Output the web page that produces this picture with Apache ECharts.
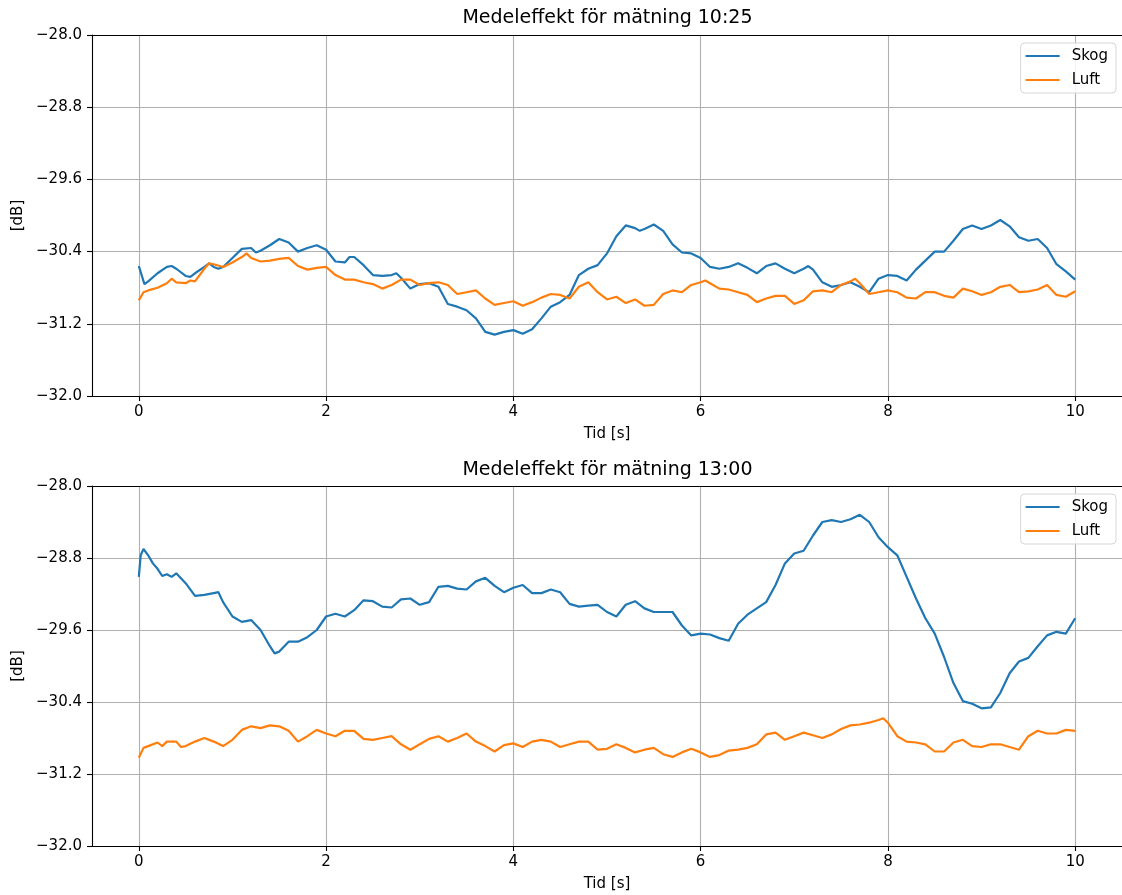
<!DOCTYPE html>
<html>
<head>
<meta charset="utf-8">
<script src="https://cdn.jsdelivr.net/npm/echarts@6/dist/echarts.min.js"></script>
<style>html,body{margin:0;padding:0;background:#fff}#c{width:1122px;height:895px}</style>
</head>
<body>
<div id="c"></div>
<script>
// ---- data: [time s, dB] ----
const topSkog = [[0,-30.56],[0.06,-30.76],[0.1,-30.73],[0.2,-30.64],[0.3,-30.57],[0.35,-30.56],[0.4,-30.59],[0.5,-30.67],[0.55,-30.68],[0.6,-30.64],[0.7,-30.57],[0.75,-30.53],[0.8,-30.57],[0.85,-30.59],[0.9,-30.57],[1.0,-30.47],[1.1,-30.37],[1.2,-30.36],[1.25,-30.41],[1.3,-30.39],[1.4,-30.33],[1.5,-30.26],[1.6,-30.30],[1.7,-30.40],[1.8,-30.36],[1.9,-30.33],[2.0,-30.38],[2.1,-30.51],[2.2,-30.52],[2.25,-30.46],[2.3,-30.46],[2.4,-30.55],[2.5,-30.66],[2.6,-30.67],[2.7,-30.66],[2.75,-30.64],[2.8,-30.69],[2.9,-30.81],[3.0,-30.76],[3.1,-30.75],[3.2,-30.79],[3.3,-30.98],[3.4,-31.01],[3.5,-31.05],[3.6,-31.14],[3.7,-31.29],[3.8,-31.32],[3.9,-31.29],[4.0,-31.27],[4.1,-31.31],[4.2,-31.26],[4.3,-31.14],[4.4,-31.01],[4.5,-30.96],[4.6,-30.88],[4.7,-30.66],[4.8,-30.59],[4.9,-30.55],[5.0,-30.42],[5.1,-30.23],[5.2,-30.11],[5.3,-30.14],[5.35,-30.17],[5.4,-30.15],[5.5,-30.10],[5.6,-30.17],[5.7,-30.32],[5.8,-30.41],[5.9,-30.42],[6.0,-30.47],[6.1,-30.57],[6.2,-30.59],[6.3,-30.57],[6.4,-30.53],[6.5,-30.58],[6.6,-30.64],[6.7,-30.56],[6.8,-30.53],[6.9,-30.59],[7.0,-30.64],[7.1,-30.59],[7.15,-30.56],[7.2,-30.60],[7.3,-30.74],[7.4,-30.79],[7.5,-30.77],[7.6,-30.74],[7.7,-30.79],[7.8,-30.85],[7.9,-30.70],[8.0,-30.66],[8.1,-30.67],[8.2,-30.72],[8.3,-30.60],[8.4,-30.50],[8.5,-30.40],[8.6,-30.40],[8.7,-30.28],[8.8,-30.15],[8.9,-30.11],[9.0,-30.15],[9.1,-30.11],[9.2,-30.05],[9.3,-30.12],[9.4,-30.24],[9.5,-30.28],[9.6,-30.26],[9.7,-30.36],[9.8,-30.54],[9.9,-30.62],[10.0,-30.71]];
const topLuft = [[0,-30.94],[0.05,-30.85],[0.1,-30.83],[0.2,-30.80],[0.3,-30.75],[0.35,-30.70],[0.4,-30.74],[0.5,-30.75],[0.55,-30.72],[0.6,-30.73],[0.7,-30.59],[0.75,-30.53],[0.8,-30.54],[0.9,-30.57],[1.0,-30.52],[1.1,-30.46],[1.15,-30.42],[1.2,-30.47],[1.3,-30.51],[1.4,-30.50],[1.5,-30.48],[1.6,-30.47],[1.7,-30.56],[1.8,-30.60],[1.9,-30.58],[2.0,-30.57],[2.1,-30.66],[2.2,-30.71],[2.3,-30.71],[2.4,-30.74],[2.5,-30.76],[2.6,-30.81],[2.7,-30.77],[2.8,-30.71],[2.9,-30.71],[3.0,-30.77],[3.1,-30.75],[3.2,-30.74],[3.3,-30.77],[3.4,-30.87],[3.5,-30.85],[3.6,-30.83],[3.7,-30.92],[3.8,-30.99],[3.9,-30.97],[4.0,-30.95],[4.1,-31.00],[4.2,-30.96],[4.3,-30.91],[4.4,-30.87],[4.5,-30.88],[4.6,-30.92],[4.7,-30.79],[4.8,-30.74],[4.9,-30.85],[5.0,-30.93],[5.1,-30.90],[5.2,-30.97],[5.3,-30.93],[5.4,-31.00],[5.5,-30.99],[5.6,-30.87],[5.7,-30.83],[5.8,-30.85],[5.9,-30.77],[6.0,-30.74],[6.05,-30.72],[6.1,-30.75],[6.2,-30.81],[6.3,-30.82],[6.4,-30.85],[6.5,-30.88],[6.6,-30.96],[6.7,-30.92],[6.8,-30.89],[6.9,-30.89],[7.0,-30.98],[7.1,-30.94],[7.2,-30.84],[7.3,-30.83],[7.4,-30.85],[7.5,-30.77],[7.6,-30.73],[7.65,-30.70],[7.7,-30.75],[7.8,-30.87],[7.9,-30.85],[8.0,-30.83],[8.1,-30.85],[8.2,-30.91],[8.3,-30.92],[8.4,-30.85],[8.5,-30.85],[8.6,-30.89],[8.7,-30.91],[8.8,-30.81],[8.9,-30.84],[9.0,-30.88],[9.1,-30.85],[9.2,-30.79],[9.3,-30.77],[9.4,-30.85],[9.5,-30.84],[9.6,-30.82],[9.7,-30.77],[9.8,-30.88],[9.9,-30.90],[10.0,-30.84]];
const botSkog = [[0,-29.01],[0.02,-28.77],[0.05,-28.70],[0.1,-28.77],[0.15,-28.86],[0.2,-28.92],[0.25,-29.00],[0.3,-28.98],[0.35,-29.01],[0.4,-28.97],[0.5,-29.08],[0.6,-29.22],[0.7,-29.21],[0.8,-29.19],[0.85,-29.18],[0.9,-29.29],[1.0,-29.45],[1.1,-29.51],[1.2,-29.49],[1.3,-29.60],[1.4,-29.78],[1.45,-29.86],[1.5,-29.84],[1.6,-29.73],[1.7,-29.73],[1.8,-29.68],[1.9,-29.60],[2.0,-29.45],[2.1,-29.42],[2.2,-29.45],[2.3,-29.38],[2.4,-29.27],[2.5,-29.28],[2.6,-29.34],[2.7,-29.35],[2.8,-29.26],[2.9,-29.25],[3.0,-29.32],[3.1,-29.29],[3.2,-29.12],[3.3,-29.11],[3.4,-29.14],[3.5,-29.15],[3.6,-29.06],[3.7,-29.02],[3.8,-29.11],[3.9,-29.18],[4.0,-29.13],[4.1,-29.10],[4.2,-29.19],[4.3,-29.19],[4.4,-29.15],[4.5,-29.18],[4.6,-29.31],[4.7,-29.34],[4.8,-29.33],[4.9,-29.32],[5.0,-29.40],[5.1,-29.45],[5.2,-29.32],[5.3,-29.28],[5.4,-29.36],[5.5,-29.40],[5.6,-29.40],[5.7,-29.40],[5.8,-29.55],[5.9,-29.66],[6.0,-29.64],[6.1,-29.65],[6.2,-29.69],[6.3,-29.72],[6.4,-29.53],[6.5,-29.43],[6.6,-29.36],[6.7,-29.29],[6.8,-29.10],[6.9,-28.86],[7.0,-28.75],[7.1,-28.72],[7.2,-28.55],[7.3,-28.40],[7.4,-28.38],[7.5,-28.40],[7.6,-28.37],[7.7,-28.32],[7.8,-28.40],[7.9,-28.57],[8.0,-28.68],[8.1,-28.77],[8.2,-29.01],[8.3,-29.25],[8.4,-29.47],[8.5,-29.64],[8.6,-29.90],[8.7,-30.19],[8.8,-30.39],[8.9,-30.42],[9.0,-30.47],[9.1,-30.46],[9.2,-30.30],[9.3,-30.08],[9.4,-29.95],[9.5,-29.91],[9.6,-29.78],[9.7,-29.66],[9.8,-29.62],[9.9,-29.64],[10.0,-29.47]];
const botLuft = [[0,-31.02],[0.05,-30.91],[0.1,-30.89],[0.2,-30.85],[0.25,-30.89],[0.3,-30.84],[0.4,-30.84],[0.45,-30.90],[0.5,-30.89],[0.6,-30.84],[0.7,-30.80],[0.8,-30.84],[0.9,-30.89],[1.0,-30.82],[1.1,-30.71],[1.2,-30.67],[1.3,-30.69],[1.4,-30.66],[1.5,-30.67],[1.6,-30.72],[1.7,-30.84],[1.8,-30.78],[1.9,-30.71],[2.0,-30.75],[2.1,-30.78],[2.2,-30.72],[2.3,-30.72],[2.4,-30.81],[2.5,-30.82],[2.6,-30.80],[2.7,-30.78],[2.8,-30.87],[2.9,-30.93],[3.0,-30.87],[3.1,-30.81],[3.2,-30.78],[3.3,-30.84],[3.4,-30.80],[3.5,-30.75],[3.6,-30.84],[3.7,-30.89],[3.8,-30.95],[3.9,-30.88],[4.0,-30.86],[4.1,-30.90],[4.2,-30.84],[4.3,-30.82],[4.4,-30.84],[4.5,-30.90],[4.6,-30.87],[4.7,-30.84],[4.8,-30.84],[4.9,-30.93],[5.0,-30.92],[5.1,-30.87],[5.2,-30.91],[5.3,-30.96],[5.4,-30.93],[5.5,-30.91],[5.6,-30.98],[5.7,-31.01],[5.8,-30.96],[5.9,-30.92],[6.0,-30.96],[6.1,-31.01],[6.2,-30.99],[6.3,-30.94],[6.4,-30.93],[6.5,-30.91],[6.6,-30.87],[6.7,-30.76],[6.8,-30.74],[6.9,-30.82],[7.0,-30.78],[7.1,-30.74],[7.2,-30.77],[7.3,-30.80],[7.4,-30.76],[7.5,-30.70],[7.6,-30.66],[7.7,-30.65],[7.8,-30.63],[7.9,-30.60],[7.95,-30.58],[8.0,-30.63],[8.1,-30.78],[8.2,-30.84],[8.3,-30.85],[8.4,-30.87],[8.5,-30.95],[8.6,-30.95],[8.7,-30.85],[8.8,-30.82],[8.9,-30.89],[9.0,-30.90],[9.1,-30.87],[9.2,-30.87],[9.3,-30.90],[9.4,-30.93],[9.5,-30.78],[9.6,-30.72],[9.7,-30.75],[9.8,-30.75],[9.9,-30.71],[10.0,-30.72]];

const xTicks = [0, 2, 4, 6, 8, 10];
const titles = ['Medeleffekt för mätning 10:25', 'Medeleffekt för mätning 13:00'];
const seriesNames = ['Skog', 'Luft'];
const colors = ['#1f77b4', '#ff7f0e'];

const FONT = 'DejaVu Sans';
const chart = echarts.init(document.getElementById('c'), null, {renderer: 'canvas'});

const grids = [
  {left: 92, width: 1031, top: 35, height: 361},
  {left: 92, width: 1031, top: 486, height: 360}
];
const labelStyle = {color: '#000', fontFamily: FONT, fontSize: 15};
const xAxes = [], yAxes = [], series = [], legends = [], graphics = [];
const data = [[topSkog, topLuft], [botSkog, botLuft]];

grids.forEach((g, i) => {
  xAxes.push({
    type: 'value', gridIndex: i, min: -0.5, max: 10.5, position: 'bottom',
    name: 'Tid [s]', nameLocation: 'middle', nameGap: 31,
    nameTextStyle: {color: '#000', fontFamily: FONT, fontSize: 15},
    axisLine: {show: true, onZero: false, lineStyle: {color: '#000', width: 1.1}},
    axisTick: {show: true, length: 5, customValues: xTicks, lineStyle: {color: '#000', width: 1.1}},
    axisLabel: Object.assign({customValues: xTicks, margin: 9, formatter: v => String(v)}, labelStyle),
    splitLine: {show: true, lineStyle: {color: '#b0b0b0', width: 1.1}}
  });
  xAxes.push({
    type: 'value', gridIndex: i, min: -0.5, max: 10.5, position: 'top',
    axisLine: {show: true, onZero: false, lineStyle: {color: '#000', width: 1.1}},
    axisTick: {show: false}, axisLabel: {show: false}, splitLine: {show: false}
  });
  yAxes.push({
    type: 'value', gridIndex: i, min: -32, max: -28, interval: 0.8,
    name: '[dB]', nameLocation: 'middle', nameGap: 63, nameRotate: 90,
    nameTextStyle: {color: '#000', fontFamily: FONT, fontSize: 15},
    axisLine: {show: true, onZero: false, lineStyle: {color: '#000', width: 1.1}},
    axisTick: {show: true, length: 5, lineStyle: {color: '#000', width: 1.1}},
    axisLabel: Object.assign({margin: 10, formatter: v => (v < 0 ? '\u2212' : '') + Math.abs(v).toFixed(1)}, labelStyle),
    splitLine: {show: true, lineStyle: {color: '#b0b0b0', width: 1.1}}
  });
  data[i].forEach((d, k) => {
    series.push({
      type: 'line', name: seriesNames[k], xAxisIndex: i * 2, yAxisIndex: i,
      data: d, symbol: 'none', showSymbol: false, smooth: false, animation: false,
      lineStyle: {color: colors[k], width: 2.2}, itemStyle: {color: colors[k]},
      z: 3 + k
    });
  });
  legends.push({
    orient: 'vertical', right: 6, top: g.top + 8,
    data: seriesNames.map(n => ({name: n, icon: 'rect'})),
    itemWidth: 34, itemHeight: 2.2, itemGap: 6,
    padding: [4, 8, 4, 5],
    borderColor: '#d6d6d6', borderWidth: 1, borderRadius: 4,
    backgroundColor: 'rgba(255,255,255,0.85)',
    textStyle: {color: '#000', fontFamily: FONT, fontSize: 15, lineHeight: 18, padding: [0, 0, 0, 7]},
    selectedMode: false
  });
  graphics.push({
    type: 'text', x: 607.5, y: i === 0 ? 18.5 : 470,
    style: {text: titles[i], fill: '#000', font: '19px "DejaVu Sans"', textAlign: 'center', textVerticalAlign: 'middle'}
  });
});

chart.setOption({
  animation: false,
  backgroundColor: '#fff',
  grid: grids,
  xAxis: xAxes,
  yAxis: yAxes,
  series: series,
  legend: legends,
  graphic: graphics
});
</script>
</body>
</html>
